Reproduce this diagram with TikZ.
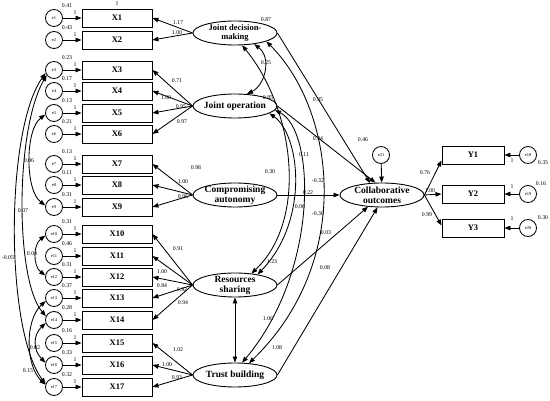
\documentclass[tikz,border=0pt]{standalone}
\usepackage{fontspec}
\setmainfont{Liberation Serif}
\usetikzlibrary{positioning,arrows.meta,shapes.geometric}

\begin{document}
\begin{tikzpicture}[x=1pt, y=-1pt,
    obs/.style={draw, line width=0.9pt, minimum width=70pt, minimum height=18pt, inner sep=0pt, font=\fontsize{8.5}{9}\selectfont\bfseries},
    err/.style={circle, draw, line width=0.8pt, minimum size=17pt, inner sep=0pt, font=\fontsize{4.5}{5}\selectfont},
    lat/.style={ellipse, draw, line width=0.9pt, minimum width=84pt, minimum height=24pt, inner sep=-3pt, align=center, font=\fontsize{9.5}{10}\selectfont\bfseries},
    num/.style={inner sep=0pt, font=\fontsize{5.8}{6}\selectfont},
    arr/.style={-{Triangle[length=6pt,width=4.5pt]}, line width=0.85pt},
    cov/.style={{Triangle[length=6pt,width=4.5pt]}-{Triangle[length=6pt,width=4.5pt]}, line width=0.85pt},
]
    \useasboundingbox (0,0) rectangle (550,401);

    % indicators with their errors
    \foreach \i/\y/\v in {1/18/0.41, 2/40/0.43, 3/70/0.23, 4/91/0.17, 5/113/0.13, 6/134/0.21,
        7/164/0.13, 8/185/0.11, 9/207/0.31, 10/234/0.31, 11/256/0.46, 12/277/0.31,
        13/298/0.37, 14/320/0.28, 15/343/0.16, 16/365/0.33, 17/387/0.32} {
        \node[obs] (X\i) at (117,\y) {X\i};
        \node[err] (e\i) at (54,\y) {e\i};
        \draw[arr] (e\i) -- (X\i);
        \node[num] at (75,\y-5) {1};
        \node[num] at (67,\y-12) {\v};
    }
    \node[num] at (117,4) {1};

    % latent factors
    \node[lat, font=\fontsize{8.5}{9.5}\selectfont\bfseries] (jdm) at (235,33) {Joint decision-\\making};
    \node[lat] (jop) at (235,106) {Joint operation};
    \node[lat] (cau) at (235,195) {Compromising\\autonomy};
    \node[lat] (rsh) at (235,285) {Resources\\sharing};
    \node[lat] (tbu) at (235,375) {Trust building};
    \node[lat] (col) at (382,195) {Collaborative\\outcomes};
    \node[err] (e21) at (381,155) {e21};

    % outcome indicators
    \foreach \i/\y/\e in {1/155/18, 2/194/19, 3/228/20} {
        \node[obs, minimum width=62pt] (Y\i) at (473,\y) {Y\i};
        \node[err] (e\e) at (528,\y) {e\e};
        \draw[arr] (e\e) -- (Y\i);
    }

    % loadings
    \foreach \f/\a/\b in {jdm/1/2, jop/3/6, cau/7/9, rsh/10/14, tbu/15/17}
        \foreach \i in {\a,...,\b}
            \draw[arr] (\f.west) -- (X\i.east);

    % structural paths
    \draw[arr] (jdm.east) -- (col.135);
    \draw[arr] (jop.east) -- (col.118);
    \draw[arr] (cau) -- (col);
    \draw[arr] (rsh.east) -- (col.220);
    \draw[arr] (tbu.east) -- (col.250);
    \draw[arr] (e21) -- (col);
    \draw[arr] (col.east) -- ([yshift=4pt]Y1.south west);
    \draw[arr] (col.east) -- (Y2.west);
    \draw[arr] (col.east) -- ([yshift=-7pt]Y3.north west);

    % covariances between factors
    \draw[cov] (jdm.330) .. controls (272,58) and (265,85) .. (jop.45);
    \draw[cov] (jdm.300) .. controls (295,110) and (308,220) .. (rsh.35);
    \draw[cov] (jop.348) .. controls (300,135) and (310,220) .. (rsh.25);
    \draw[cov] (jdm.345) .. controls (335,110) and (355,260) .. (tbu.40);
    \draw[cov] (jop.354) .. controls (315,130) and (320,270) .. (tbu.60);
    \draw[cov] (rsh.south) -- (tbu.north);

    % covariances between errors
    \draw[cov] (e3.200) .. controls (5,130) and (5,330) .. (e17.160);
    \draw[cov] (e3.215) .. controls (15,130) and (15,280) .. (e14.155);
    \draw[cov] (e5.190) .. controls (25,130) and (25,190) .. (e9.170);
    \draw[cov] (e10.190) .. controls (33,245) and (33,266) .. (e12.170);
    \draw[cov] (e13.200) .. controls (25,320) and (25,365) .. (e17.165);
    \draw[cov] (e14.200) .. controls (33,335) and (33,350) .. (e16.165);

    % estimates
    \foreach \x/\y/\t in {178/23/1.17, 177/33/1.00, 177/81/0.71, 166/98/1.00, 181/107/0.95, 182/122/0.97,
        196/168/0.98, 183/182/1.00, 183/197/0.96, 178/249/0.91, 162/272/1.00, 162/286/0.84,
        182/290/0.92, 183/303/0.94, 178/350/1.02, 167/365/1.00, 177/378/0.93,
        29/161/0.06, 23/211/0.07, 8/258/-0.05, 32/254/0.04, 35/348/0.02, 28/371/0.15,
        266/20/0.87, 268/98/0.85, 266/63/0.25, 318/100/0.35, 318/139/0.24, 363/140/0.46,
        304/155/0.11, 270/172/0.30, 318/181/-0.32, 308/193/0.22, 300/207/0.06, 318/214/-0.30,
        326/233/0.03, 272/262/1.23, 325/268/0.08, 268/319/1.06, 277/348/1.08,
        425/173/0.76, 430/191/1.00, 427/215/0.99, 512/161/1, 512/187/1, 512/219/1,
        543/163/0.35, 541/184/0.16, 543/218/0.30}
        \node[num] at (\x,\y) {\t};
\end{tikzpicture}
\end{document}
